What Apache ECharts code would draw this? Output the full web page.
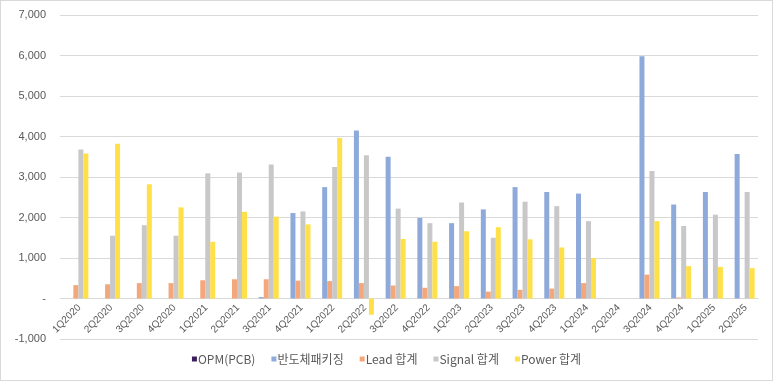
<!DOCTYPE html>
<html>
<head>
<meta charset="utf-8">
<script src="https://cdn.jsdelivr.net/npm/echarts@6/dist/echarts.min.js"></script>
<style>
html,body{margin:0;padding:0;background:#fff;}
#wrap{position:absolute;left:0;top:0;width:771px;height:379px;border:1px solid #d9d9d9;}
#c{width:773px;height:381px;position:absolute;left:-1px;top:-1px;}
</style>
</head>
<body>
<div id="wrap"><div id="c"></div></div>
<script>
const categories = ['1Q2020','2Q2020','3Q2020','4Q2020','1Q2021','2Q2021','3Q2021','4Q2021','1Q2022','2Q2022','3Q2022','4Q2022','1Q2023','2Q2023','3Q2023','4Q2023','1Q2024','2Q2024','3Q2024','4Q2024','1Q2025','2Q2025'];
const opmPcb = [null,null,null,null,null,null,null,null,null,null,null,null,null,null,null,null,null,null,null,null,null,null];
const semiPkg = [null,null,null,null,null,null,35,2110,2750,4150,3500,1990,1860,2200,2750,2630,2590,null,5980,2320,2630,3570];
const leadSum = [330,350,380,380,450,475,475,440,430,380,320,265,305,170,215,245,380,null,590,25,null,null];
const signalSum = [3680,1550,1810,1550,3090,3110,3310,2150,3250,3540,2220,1860,2370,1500,2390,2280,1910,null,3150,1790,2070,2630];
const powerSum = [3580,3820,2820,2250,1400,2140,2020,1830,3960,-400,1470,1400,1660,1760,1460,1260,1000,null,1910,800,780,750];
const yTicks = {min:-1000, max:7000, interval:1000};

const font = '"Liberation Sans", "Noto Sans CJK KR", sans-serif';
const gridTop = 15, gridBottom = 42, H = 381;
const plotH = H - gridTop - gridBottom;
const zeroOffset = plotH * (0 - yTicks.min) / (yTicks.max - yTicks.min);

const chart = echarts.init(document.getElementById('c'));
function mk(name, data, color){
  return {name, type:'bar', data, barWidth:5, barGap:'0%', itemStyle:{color}, emphasis:{disabled:true}};
}
chart.setOption({
  animation:false,
  textStyle:{fontFamily:font},
  grid:{left:60, right:15, top:gridTop, bottom:gridBottom, containLabel:false},
  legend:{
    bottom:11, left:'center', itemWidth:5, itemHeight:5, itemGap:16, icon:'rect',
    textStyle:{color:'#595959', fontSize:12, fontFamily:'"Noto Sans CJK KR", sans-serif', padding:[0,0,0,-4]}
  },
  xAxis:{
    type:'category', data:categories,
    offset:-zeroOffset,
    axisLine:{onZero:false, lineStyle:{color:'#d9d9d9', width:1}},
    axisTick:{show:false},
    axisLabel:{rotate:45, interval:0, color:'#595959', fontSize:10, margin:4, verticalAlign:'top'}
  },
  yAxis:{
    type:'value', min:yTicks.min, max:yTicks.max, interval:yTicks.interval,
    axisLine:{show:false}, axisTick:{show:false},
    splitLine:{lineStyle:{color:'#d9d9d9', width:1}},
    axisLabel:{color:'#595959', fontSize:11, margin:14,
      formatter:v => v === 0 ? '-' : v.toLocaleString('en-US')}
  },
  series:[
    mk('OPM(PCB)', opmPcb, '#3b1f5c'),
    mk('반도체패키징', semiPkg, '#8eaadb'),
    mk('Lead 합계', leadSum, '#f4a77a'),
    mk('Signal 합계', signalSum, '#c8c8c8'),
    mk('Power 합계', powerSum, '#ffe048')
  ]
});
</script>
</body>
</html>
